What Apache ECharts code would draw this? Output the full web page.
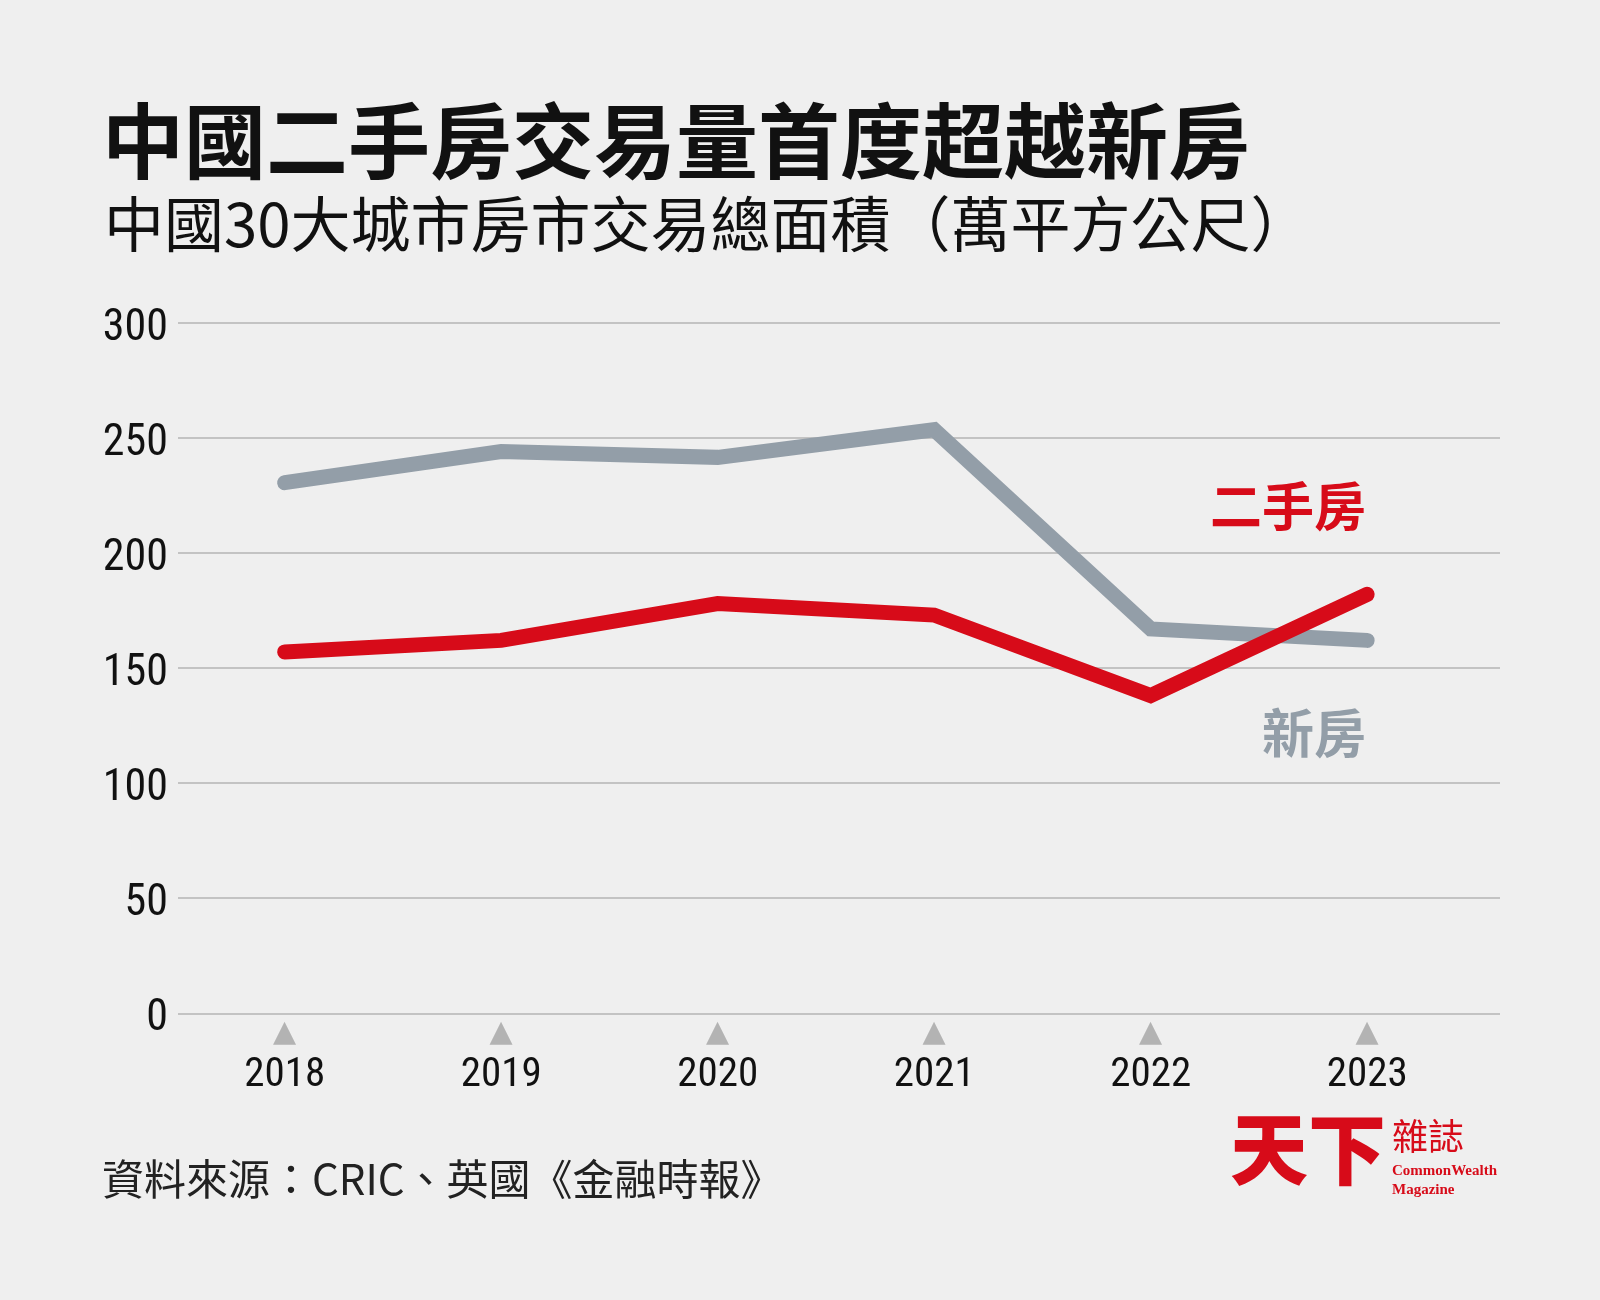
<!DOCTYPE html>
<html>
<head>
<meta charset="utf-8">
<title>中國二手房交易量首度超越新房</title>
<script src="https://cdn.jsdelivr.net/npm/echarts@6/dist/echarts.min.js"></script>
<style>
  html, body { margin: 0; padding: 0; background: #efefef; }
  #myChart { width: 1600px; height: 1300px; }
</style>
</head>
<body>
<div id="myChart"></div>
<script>
  // 資料（萬平方公尺）
  const years = ['2018', '2019', '2020', '2021', '2022', '2023'];
  const newHomes = [230.5, 244, 241.5, 253.5, 167, 162];     // 新房
  const resaleHomes = [157, 162, 178, 173, 138, 182];        // 二手房
  const yMin = 0;
  const yMax = 300;
  const yStep = 50;

  const numFont = "'Liberation Sans Narrow', 'Roboto Condensed', Roboto, sans-serif";
  const cjkFont = "'Noto Sans CJK TC', 'Noto Sans CJK SC', sans-serif";
  const grayColor = '#939ea8';
  const redColor = '#d70b19';

  const dom = document.getElementById('myChart');
  const myChart = echarts.init(dom, null, {renderer: 'canvas'});

  const option = {
    backgroundColor: '#efefef',
    animation: false,
    grid: [
      // 格線與 y 軸標籤
      {left: 178, right: 100, top: 322.7, bottom: 286.7},
      // 折線
      {left: 176.4, right: 124.6, top: 322.7, bottom: 286.7}
    ],
    xAxis: [
      {gridIndex: 0, type: 'value', show: false},
      {
        gridIndex: 1,
        type: 'category',
        data: years,
        boundaryGap: true,
        axisLine: {show: false},
        axisTick: {show: false},
        axisLabel: {
          margin: 6,
          formatter: function (v) {
            return '{t|▲}\n{y|' + v + '}';
          },
          rich: {
            t: {fontFamily: 'DejaVu Sans', fontSize: 30, lineHeight: 28, color: '#b3b3b3'},
            y: {fontFamily: numFont, fontSize: 41, lineHeight: 56, color: '#111'}
          }
        }
      }
    ],
    yAxis: [
      {
        gridIndex: 0,
        type: 'value',
        min: yMin,
        max: yMax,
        interval: yStep,
        axisLine: {show: false},
        axisTick: {show: false},
        axisLabel: {
          margin: 10,
          formatter: function (v) {
            return '{a|' + v + '}';
          },
          rich: {
            a: {fontFamily: numFont, fontSize: 44, color: '#111', padding: [12, 0, 0, 0]}
          }
        },
        splitLine: {
          lineStyle: {color: '#b5b5b5', width: 1.5}
        }
      },
      {
        gridIndex: 1,
        type: 'value',
        min: yMin,
        max: yMax,
        interval: yStep,
        show: false,
        splitLine: {show: false}
      }
    ],
    series: [
      {
        name: '新房',
        type: 'line',
        xAxisIndex: 1,
        yAxisIndex: 1,
        data: newHomes,
        symbol: 'none',
        lineStyle: {color: grayColor, width: 15, cap: 'round', join: 'miter'}
      },
      {
        name: '二手房',
        type: 'line',
        xAxisIndex: 1,
        yAxisIndex: 1,
        data: resaleHomes,
        symbol: 'none',
        lineStyle: {color: redColor, width: 15, cap: 'round', join: 'miter'}
      }
    ],
    graphic: [
      {
        type: 'text', left: 102, top: 100,
        style: {text: '中國二手房交易量首度超越新房', font: 'bold 82px ' + cjkFont, fill: '#111'}
      },
      {
        type: 'text', left: 104, top: 194,
        style: {text: '中國30大城市房市交易總面積（萬平方公尺）', font: 'normal 60px ' + cjkFont, fill: '#111'}
      },
      {
        type: 'text', right: 234, top: 480,
        style: {text: '二手房', font: 'bold 52px ' + cjkFont, fill: redColor}
      },
      {
        type: 'text', right: 234, top: 707,
        style: {text: '新房', font: 'bold 52px ' + cjkFont, fill: grayColor}
      },
      {
        type: 'text', left: 102, top: 1158,
        style: {text: '資料來源：CRIC、英國《金融時報》', font: 'normal 42px ' + cjkFont, fill: '#222'}
      },
      // 天下雜誌 logo
      {
        type: 'text', left: 1230, top: 1110,
        style: {text: '天下', font: '900 78px ' + cjkFont, fill: redColor}
      },
      {
        type: 'text', left: 1392, top: 1118,
        style: {text: '雜誌', font: 'normal 36px ' + cjkFont, fill: redColor}
      },
      {
        type: 'text', left: 1392, top: 1164,
        style: {text: 'CommonWealth', font: 'bold 15px "Liberation Serif", serif', fill: redColor}
      },
      {
        type: 'text', left: 1392, top: 1183,
        style: {text: 'Magazine', font: 'bold 15px "Liberation Serif", serif', fill: redColor}
      }
    ]
  };

  myChart.setOption(option);
</script>
</body>
</html>
